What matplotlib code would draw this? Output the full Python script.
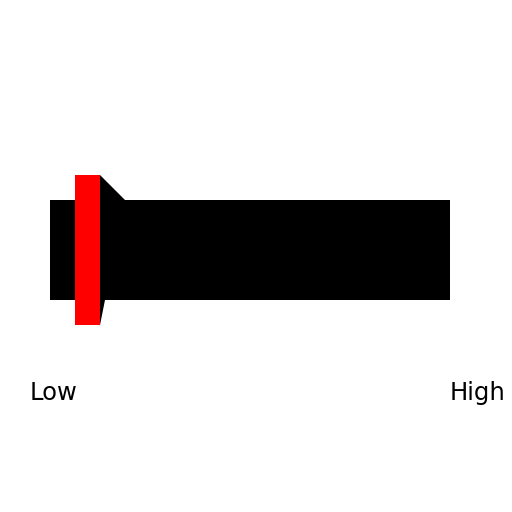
import matplotlib
matplotlib.use('Agg')
import matplotlib.pyplot as plt
from matplotlib.patches import Rectangle, Polygon

# scale and value
scale_low = 0.0
scale_high = 100.0
value = 9.375
marker_width = 6.25
labels = ['Low', 'High']

fig = plt.figure(figsize=(5.12, 5.12), dpi=100)
ax = fig.add_axes([0, 0, 1, 1])
# map scale 0..100 onto pixel 50..450
ax.set_xlim(-12.5, 115.5)
ax.set_ylim(512, 0)
ax.axis('off')

ax.add_patch(Rectangle((scale_low, 200), scale_high - scale_low, 100, color='black', lw=0))

left = value - marker_width / 2
right = value + marker_width / 2
# dark wedge behind the marker
ax.add_patch(Polygon([(right, 175), (right + 6.25, 200), (right + 1.25, 300), (right, 325)],
                     closed=True, color='black', lw=0))
ax.add_patch(Rectangle((left, 175), marker_width, 150, color='red', lw=0))

ax.text(scale_low - 5, 400, labels[0], fontsize=17.5, ha='left', va='baseline')
ax.text(scale_high, 400, labels[1], fontsize=17.5, ha='left', va='baseline')

fig.savefig('out.png', dpi=100)
